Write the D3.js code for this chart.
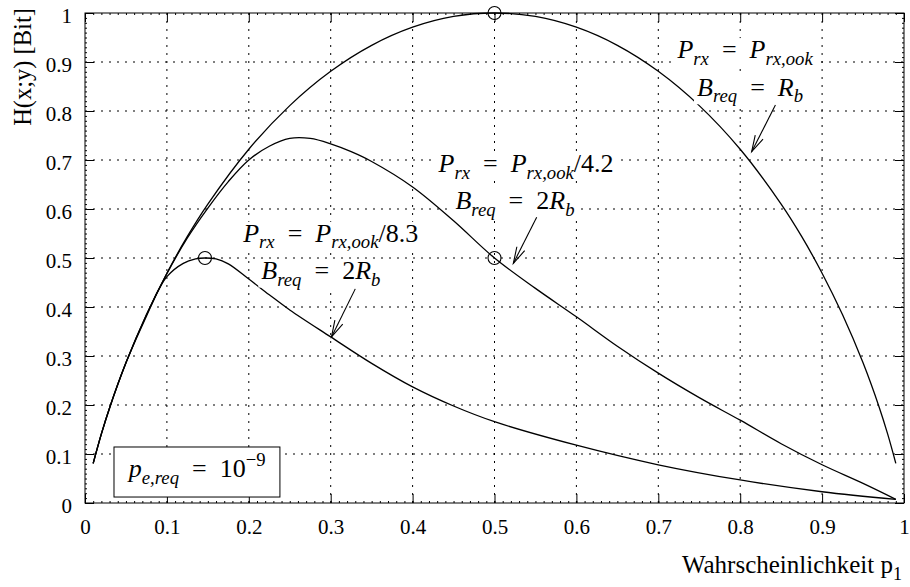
<!DOCTYPE html>
<head>
<meta charset="utf-8">
<title>H(x;y)</title>
<style>
body { margin: 0; background: #fff; }
svg { display: block; }
.axis path { display: none; }
.axis line { stroke: #000; stroke-width: 1; }
.axis text { font-family: "Liberation Serif", Tinos, "Times New Roman", Times, "DejaVu Serif", serif; font-size: 21px; fill: #000; }
.serif { font-family: "Liberation Serif", Tinos, "Times New Roman", Times, "DejaVu Serif", serif; }
.grid line { stroke: #000; stroke-width: 1; stroke-dasharray: 2,6; }
.curve { fill: none; stroke: #000; stroke-width: 1.3; }
.marker { fill: none; stroke: #000; stroke-width: 1.1; }
.arrow { stroke: #000; stroke-width: 1.1; fill: none; }
text { white-space: pre; }
</style>
<script src="https://cdn.jsdelivr.net/npm/d3@7"></script>
</head>
<body>
<script>
// values
var xTicks = [0, 0.1, 0.2, 0.3, 0.4, 0.5, 0.6, 0.7, 0.8, 0.9, 1];
var yTicks = [0, 0.1, 0.2, 0.3, 0.4, 0.5, 0.6, 0.7, 0.8, 0.9, 1];
var tickLabels = ["0", "0.1", "0.2", "0.3", "0.4", "0.5", "0.6", "0.7", "0.8", "0.9", "1"];

// P_rx = P_rx,ook, B_req = R_b
var p1 = [0.01, 0.02, 0.03, 0.05, 0.075, 0.1, 0.125, 0.15, 0.2, 0.25, 0.3, 0.35, 0.4, 0.45, 0.5,
          0.55, 0.6, 0.65, 0.7, 0.75, 0.8, 0.85, 0.875, 0.9, 0.925, 0.95, 0.97, 0.98, 0.99];
var h1 = [0.081, 0.141, 0.194, 0.286, 0.384, 0.469, 0.544, 0.610, 0.722, 0.811, 0.881, 0.934, 0.971, 0.993, 1.0,
          0.993, 0.971, 0.934, 0.881, 0.811, 0.722, 0.610, 0.544, 0.469, 0.384, 0.286, 0.194, 0.141, 0.081];

// P_rx = P_rx,ook/4.2, B_req = 2R_b
var p2 = [0.01, 0.02, 0.03, 0.05, 0.075, 0.1, 0.125, 0.15, 0.175, 0.2, 0.225, 0.25, 0.275, 0.3, 0.325, 0.35,
          0.4, 0.45, 0.5, 0.55, 0.6, 0.65, 0.7, 0.75, 0.8, 0.85, 0.9, 0.95, 0.99];
var h2 = [0.081, 0.141, 0.194, 0.286, 0.384, 0.468, 0.541, 0.602, 0.656, 0.700, 0.728, 0.744, 0.744, 0.733, 0.717, 0.697,
          0.645, 0.576, 0.5, 0.438, 0.38, 0.32, 0.265, 0.215, 0.169, 0.121, 0.078, 0.04, 0.0075];

// P_rx = P_rx,ook/8.3, B_req = 2R_b
var p3 = [0.01, 0.02, 0.03, 0.05, 0.075, 0.09, 0.1, 0.12, 0.135, 0.1465, 0.16, 0.175, 0.2, 0.225, 0.25, 0.3, 0.35, 0.4, 0.45, 0.5,
          0.6, 0.7, 0.8, 0.9, 0.99];
var h3 = [0.081, 0.141, 0.194, 0.286, 0.381, 0.435, 0.462, 0.489, 0.498, 0.5, 0.498, 0.488, 0.457, 0.425, 0.394, 0.339, 0.285, 0.237, 0.198, 0.166,
          0.118, 0.078, 0.047, 0.023, 0.0075];

var markers = [[0.5, 1.0], [0.5, 0.5], [0.1465, 0.5]];

// arrows: [tail, tip] in data units
var arrows = [
  [[0.843, 0.812], [0.814, 0.717]],
  [[0.5515, 0.583], [0.523, 0.489]],
  [[0.330, 0.437], [0.301, 0.339]]
];

// label lines: center p, baseline v, segments
var labels = [
  { p: 0.806, v: 0.908, segs: [["P","i"],["rx","s"],["\u2002=\u2002","r"],["P","i"],["rx,ook","s"]] },
  { p: 0.812, v: 0.831, segs: [["B","i"],["req","s"],["\u2002=\u2002","r"],["R","i"],["b","s"]] },
  { p: 0.5385, v: 0.675, segs: [["P","i"],["rx","s"],["\u2002=\u2002","r"],["P","i"],["rx,ook","s"],["/4.2","r"]] },
  { p: 0.525, v: 0.600, segs: [["B","i"],["req","s"],["\u2002=\u2002","r"],["2","r"],["R","i"],["b","s"]] },
  { p: 0.300, v: 0.533, segs: [["P","i"],["rx","s"],["\u2002=\u2002","r"],["P","i"],["rx,ook","s"],["/8.3","r"]] },
  { p: 0.288, v: 0.457, segs: [["B","i"],["req","s"],["\u2002=\u2002","r"],["2","r"],["R","i"],["b","s"]] }
];
var boxLabel = { p0: 0.0354, p1: 0.238, v0: 0.0122, v1: 0.1143, p: 0.137, v: 0.053,
  segs: [["p","i"],["e,req","s"],["\u2002=\u200210","r"],["\u22129","u"]] };

var width = 910, height = 587;
var margin = { top: 13, right: 6, bottom: 84, left: 85 };
var w = width - margin.left - margin.right,
    h = height - margin.top - margin.bottom;

var x = d3.scaleLinear().domain([0, 1]).range([0, w]);
var y = d3.scaleLinear().domain([0, 1]).range([h, 0]);

var svg = d3.select("body").append("svg")
    .attr("width", width)
    .attr("height", height);
var g = svg.append("g")
    .attr("transform", "translate(" + margin.left + "," + margin.top + ")");

// grid
g.append("g").attr("class", "grid")
  .selectAll("line").data(xTicks.slice(1, -1)).enter().append("line")
  .attr("x1", function(d) { return x(d); }).attr("x2", function(d) { return x(d); })
  .attr("y1", 0).attr("y2", h);
g.append("g").attr("class", "grid")
  .selectAll("line").data(yTicks.slice(1, -1)).enter().append("line")
  .attr("y1", function(d) { return y(d); }).attr("y2", function(d) { return y(d); })
  .attr("x1", 0).attr("x2", w);

// minor ticks every 0.01
var minor = d3.range(1, 100).map(function(i) { return i / 100; });
g.append("g").attr("class", "axis").attr("transform", "translate(0," + h + ")")
  .call(d3.axisBottom(x).tickValues(minor).tickSize(-2).tickFormat(""));
g.append("g").attr("class", "axis")
  .call(d3.axisTop(x).tickValues(minor).tickSize(-2).tickFormat(""));
g.append("g").attr("class", "axis")
  .call(d3.axisLeft(y).tickValues(minor).tickSize(-2).tickFormat(""));
g.append("g").attr("class", "axis").attr("transform", "translate(" + w + ",0)")
  .call(d3.axisRight(y).tickValues(minor).tickSize(-2).tickFormat(""));

// major axes
g.append("g").attr("class", "axis").attr("transform", "translate(0," + h + ")")
  .call(d3.axisBottom(x).tickValues(xTicks).tickSize(-9).tickPadding(16)
        .tickFormat(function(d, i) { return tickLabels[i]; }));
g.append("g").attr("class", "axis")
  .call(d3.axisLeft(y).tickValues(yTicks).tickSize(-9).tickPadding(13)
        .tickFormat(function(d, i) { return tickLabels[i]; }))
  .selectAll("text").attr("dy", null).attr("y", 9);
g.append("g").attr("class", "axis")
  .call(d3.axisTop(x).tickValues(xTicks).tickSize(-9).tickFormat(""));
g.append("g").attr("class", "axis").attr("transform", "translate(" + w + ",0)")
  .call(d3.axisRight(y).tickValues(yTicks).tickSize(-9).tickFormat(""));
g.selectAll(".axis").attr("font-family", null);

g.append("rect").attr("width", w).attr("height", h)
  .attr("fill", "none").attr("stroke", "#000").attr("stroke-width", 1);

// curves
var line = d3.line()
  .x(function(d) { return x(d[0]); })
  .y(function(d) { return y(d[1]); })
  .curve(d3.curveCatmullRom.alpha(0.5));
[[p1, h1], [p2, h2], [p3, h3]].forEach(function(s) {
  g.append("path").attr("class", "curve")
    .datum(d3.zip(s[0], s[1]))
    .attr("d", line);
});

g.selectAll(".marker").data(markers).enter().append("circle")
  .attr("class", "marker")
  .attr("cx", function(d) { return x(d[0]); })
  .attr("cy", function(d) { return y(d[1]); })
  .attr("r", 6.5);

// math-like text
var fs = 26;
function mathText(parent, px, py, segs) {
  var t = parent.append("text")
    .attr("class", "serif")
    .attr("x", px).attr("y", py)
    .attr("text-anchor", "middle")
    .style("font-size", fs + "px");
  var shift = 0;
  segs.forEach(function(s) {
    var kind = s[1];
    var target = kind === "s" ? 0.25 * fs : kind === "u" ? -0.42 * fs : 0;
    var ts = t.append("tspan").text(s[0]).attr("dy", target - shift);
    shift = target;
    if (kind === "s" || kind === "u") ts.style("font-size", (0.72 * fs) + "px");
    ts.style("font-style", (kind === "i" || kind === "s") ? "italic" : "normal");
  });
  return t;
}

labels.forEach(function(l) {
  var bg = g.append("rect").attr("fill", "#fff");
  var t = mathText(g, x(l.p), y(l.v), l.segs);
  var bb = t.node().getBBox();
  bg.attr("x", bb.x - 3).attr("y", bb.y + 3).attr("width", bb.width + 6).attr("height", bb.height - 5);
});

g.append("rect")
  .attr("x", x(boxLabel.p0)).attr("y", y(boxLabel.v1))
  .attr("width", x(boxLabel.p1) - x(boxLabel.p0))
  .attr("height", y(boxLabel.v0) - y(boxLabel.v1))
  .attr("fill", "#fff").attr("stroke", "#000").attr("stroke-width", 1);
mathText(g, x(boxLabel.p), y(boxLabel.v), boxLabel.segs);

// arrows with open heads
arrows.forEach(function(a) {
  var x0 = x(a[0][0]), y0 = y(a[0][1]), x1 = x(a[1][0]), y1 = y(a[1][1]);
  var ang = Math.atan2(y0 - y1, x0 - x1), len = 17, spread = 0.26;
  g.append("line").attr("class", "arrow")
    .attr("x1", x0).attr("y1", y0).attr("x2", x1).attr("y2", y1);
  g.append("path").attr("class", "arrow")
    .attr("d", "M" + (x1 + len * Math.cos(ang + spread)) + "," + (y1 + len * Math.sin(ang + spread)) +
               "L" + x1 + "," + y1 +
               "L" + (x1 + len * Math.cos(ang - spread)) + "," + (y1 + len * Math.sin(ang - spread)));
});

// axis titles
var xl = svg.append("text")
  .attr("class", "serif")
  .attr("x", 902).attr("y", 573)
  .attr("text-anchor", "end")
  .style("font-size", "25px");
xl.append("tspan").text("Wahrscheinlichkeit p");
xl.append("tspan").text("1").attr("dy", 7).style("font-size", "18px");

svg.append("text")
  .attr("class", "serif")
  .attr("transform", "translate(31,67) rotate(-90)")
  .attr("text-anchor", "middle")
  .style("font-size", "24.5px")
  .text("H(x;y) [Bit]");
</script>
</body>
